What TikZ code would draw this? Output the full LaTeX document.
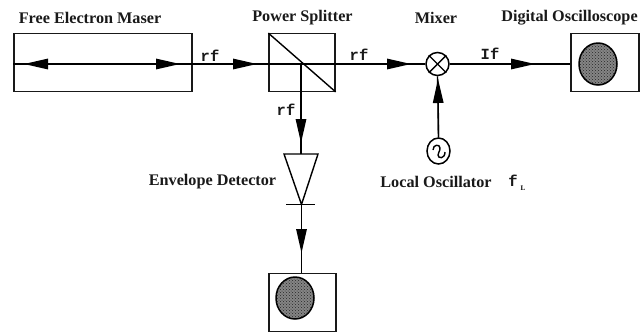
\documentclass[tikz,border=0pt]{standalone}
\usepackage{fontspec}
\setmainfont{Liberation Serif}
\setmonofont{Liberation Mono}
\usetikzlibrary{arrows.meta,patterns,shapes.geometric}
\tikzset{
 x=1pt,y=-1pt,
 wire/.style={line width=1.4pt,black},
 headed/.style={line width=1.4pt,black,-{Triangle[length=24pt,width=10.5pt]}},
 block/.style={draw=black!90,line width=1.3pt,minimum width=#1,minimum height=57.5pt,inner sep=0pt},
 title/.style={font=\fontsize{16.2}{18}\selectfont\bfseries,text=black!90,inner sep=0pt},
 sig/.style={font=\fontsize{15.5}{15}\selectfont\ttfamily\bfseries,text=black!90,inner sep=0pt},
 screen/.style={ellipse,draw=black,line width=1.5pt,minimum width=38pt,minimum height=42pt,inner sep=0pt,preaction={fill=black!48},pattern=crosshatch dots,pattern color=black!85},
 round/.style={ellipse,draw=black,line width=1.5pt,inner sep=0pt,fill=white}
}
\begin{document}
\begin{tikzpicture}
\useasboundingbox (0,0) rectangle (644,333);
% blocks
\node[block=178pt] (maser) at (103,62.5) {};
\node[block=66pt] (split) at (302,62.5) {};
\node[block=68pt] (scopeA) at (605,62.5) {};
\node[block=67pt] (scopeB) at (302.5,302.5) {};
\node[screen] (dispA) at (598,64) {};
\node[screen] (dispB) at (295,298) {};
\node[round,minimum width=23pt,minimum height=23pt] (mixer) at (437.5,64) {};
\node[round,minimum width=23pt,minimum height=26pt] (lo) at (438.5,151) {};
% detector
\coordinate (triL) at (284,154);
\coordinate (triR) at (318,154);
\coordinate (triM) at (301,154);
\coordinate (apex) at (301.5,204.5);
\coordinate (barL) at (286,204.5);
\coordinate (barR) at (315,204.5);
\draw[wire] (triL) -- (triR) -- (apex) -- cycle;
\draw[wire] (barL) -- (barR);
% way points
\coordinate (axisL) at (maser.west |- mixer.center);
\coordinate (axisR) at (maser.east |- mixer.center);
\coordinate (tipL) at (24,64);
\coordinate (tipR) at (180,64);
\coordinate (midM) at (102,64);
\coordinate (tipS) at (257,64);
\coordinate (inS) at (split.west |- mixer.center);
\coordinate (centre) at (301,64);
\coordinate (outS) at (split.east |- mixer.center);
\coordinate (tipMix) at (411,64);
\coordinate (tipIf) at (535,64);
\coordinate (inScope) at (scopeA.west |- mixer.center);
\coordinate (tipLO) at (438,79);
\coordinate (tipD) at (301,143);
\coordinate (tipB) at (301.5,253);
% connectors
\draw[wire] (axisL) -- (axisR);
\draw[headed] (midM) -- (tipL);
\draw[headed] (midM) -- (tipR);
\draw[wire] (axisR) -- (inS);
\draw[headed] (axisR) -- (tipS);
\draw[wire] (inS) -- (outS);
\draw[wire] (outS) -- (mixer.west);
\draw[headed] (outS) -- (tipMix);
\draw[wire] (mixer.east) -- (inScope);
\draw[headed] (mixer.east) -- (tipIf);
\draw[wire] (lo.north) -- (mixer.south);
\draw[headed] (lo.north) -- (tipLO);
\draw[wire] (centre) -- (triM);
\draw[headed] (centre) -- (tipD);
\draw[wire] (apex) -- (scopeB.north -| apex);
\draw[headed] (apex) -- (tipB);
% splitter diagonal
\draw[wire] (split.north west) -- (split.south east);
% mixer cross
\draw[wire] (mixer.north west) -- (mixer.south east);
\draw[wire] (mixer.north east) -- (mixer.south west);
% oscillator glyph
\draw[line width=1.4pt] (433,150) .. controls (433,144) and (440,144) .. (440,148) .. controls (440,152) and (438,152) .. (438,155) .. controls (438,159) and (445,159) .. (445,152);
% titles
\node[title] (tMaser) at (90,18) {Free Electron Maser};
\node[title] (tSplit) at (302.5,18) {Power Splitter};
\node[title] (tMix) at (436,18) {Mixer};
\node[title] (tScope) at (569.5,18) {Digital Oscilloscope};
\node[title] (tLO) at (436,182) {Local Oscillator};
\node[title] (tEnv) at (212.5,182) {Envelope Detector};
% signals
\node[sig] (s1) at (210,56) {rf};
\node[sig] (s2) at (286,110) {rf};
\node[sig] (s3) at (359,55) {rf};
\node[sig] (s4) at (490,54) {If};
\node[sig] (s5) at (513,181) {f};
\node[font=\fontsize{7}{7}\selectfont\bfseries,inner sep=0pt] (s6) at (523,188) {L};
\end{tikzpicture}
\end{document}
